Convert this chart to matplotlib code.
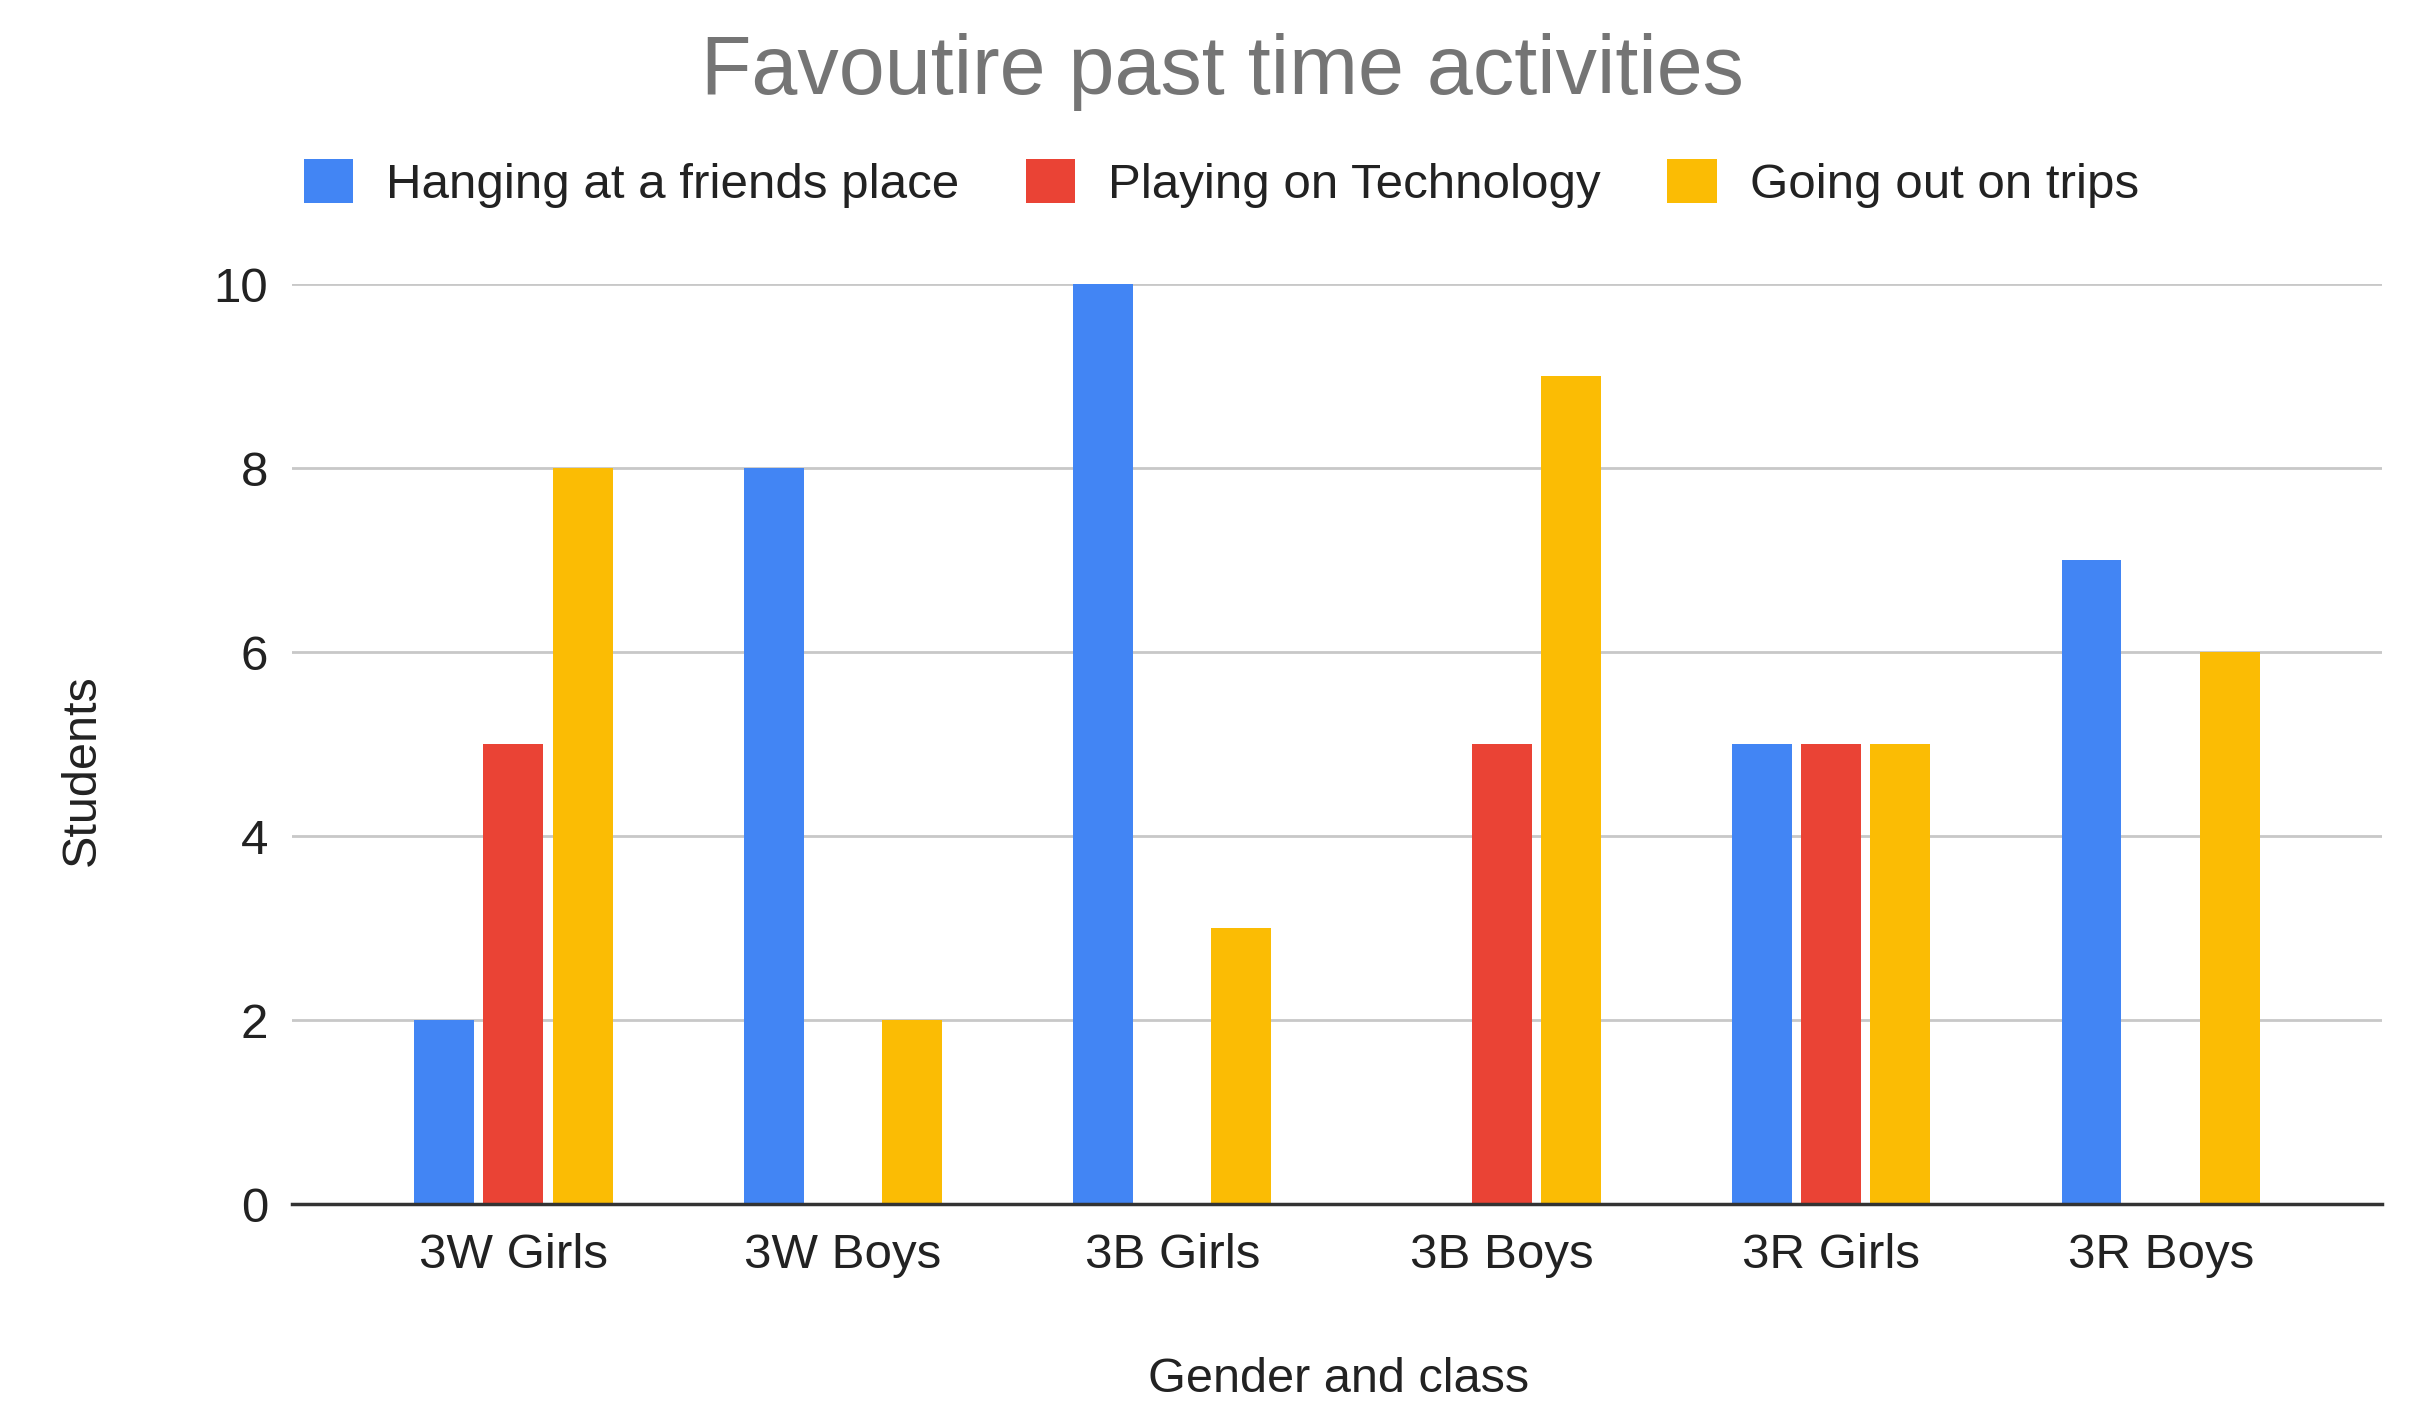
import numpy as np
import matplotlib
matplotlib.use('Agg')
import matplotlib.pyplot as plt

categories = ['3W Girls', '3W Boys', '3B Girls', '3B Boys', '3R Girls', '3R Boys']
series_names = ['Hanging at a friends place', 'Playing on Technology', 'Going out on trips']
hanging = [2, 8, 10, 0, 5, 7]
playing = [5, 0, 0, 5, 5, 0]
trips = [8, 2, 3, 9, 5, 6]
y_ticks = [0, 2, 4, 6, 8, 10]

colors = ['#4285F4', '#EA4335', '#FBBC04']

plt.rcParams['font.family'] = ['Liberation Sans', 'DejaVu Sans']

fig = plt.figure(figsize=(24.11, 14.02), dpi=100)
ax = fig.add_axes([0.1211, 0.1412, 0.8669, 0.6559])

x = np.arange(len(categories))
offsets = [-0.21, 0, 0.21]
bw = 0.182
for vals, off, c, name in zip([hanging, playing, trips], offsets, colors, series_names):
    ax.bar(x + off, vals, width=bw, color=c, label=name, zorder=3)

ax.set_xlim(-0.672, 5.672)
ax.set_ylim(0, 10)
ax.set_yticks(y_ticks)
ax.set_xticks(x)
ax.set_xticklabels(categories)
ax.tick_params(axis='both', length=0, labelsize=35.5, colors='#222222')
ax.tick_params(axis='x', pad=21)
ax.tick_params(axis='y', pad=17)
ax.grid(axis='y', color='#c8c8c8', linewidth=2, zorder=0)
ax.set_axisbelow(True)
for s in ['top', 'right', 'left']:
    ax.spines[s].set_visible(False)
ax.spines['bottom'].set_color('#333333')
ax.spines['bottom'].set_linewidth(2.5)
ax.spines['bottom'].set_zorder(4)

fig.text(0.507, 0.949, 'Favoutire past time activities', ha='center', va='center',
         fontsize=59.5, color='#757575')
fig.text(0.555, 0.016, 'Gender and class', ha='center', va='center',
         fontsize=35, color='#222222')
fig.text(0.034, 0.451, 'Students', ha='center', va='center', rotation=90,
         fontsize=35, color='#222222')

fig.legend(loc='center', bbox_to_anchor=(0.5065, 0.869), ncol=3, frameon=False,
           fontsize=35.5, handlelength=1.0, handleheight=1.0, handletextpad=0.67,
           columnspacing=1.35, labelcolor='#222222')

fig.savefig('out.png', dpi=100, facecolor='white')
